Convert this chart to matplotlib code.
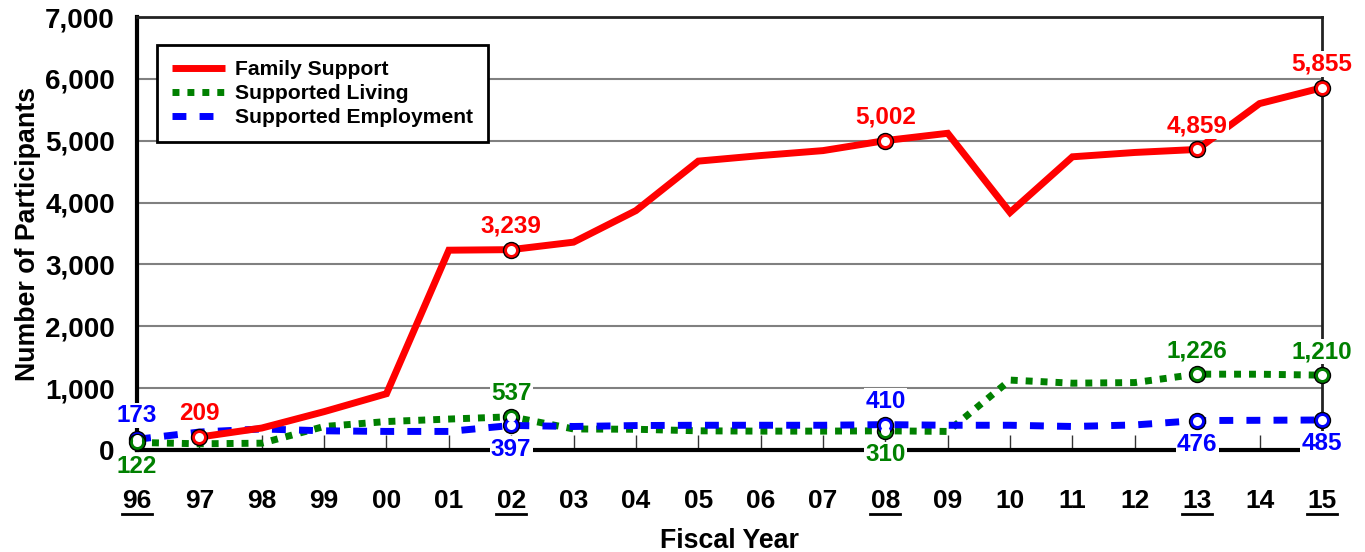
import matplotlib
matplotlib.use('Agg')
import matplotlib.pyplot as plt
import matplotlib.transforms as mtransforms
import numpy as np

plt.rcParams['font.family'] = ['Liberation Sans', 'DejaVu Sans']
plt.rcParams['font.weight'] = 'bold'

years = ['96', '97', '98', '99', '00', '01', '02', '03', '04', '05',
         '06', '07', '08', '09', '10', '11', '12', '13', '14', '15']
family_support = [np.nan, 209, 355, 620, 910, 3230, 3239, 3360, 3870, 4670,
                  4760, 4840, 5002, 5120, 3840, 4740, 4810, 4859, 5600, 5855]
supported_living = [122, 100, 110, 380, 460, 500, 537, 340, 335, 310,
                    305, 305, 310, 300, 1130, 1080, 1090, 1226, 1225, 1210]
supported_employment = [173, 290, 340, 310, 300, 300, 397, 380, 395, 400,
                        400, 400, 410, 400, 400, 380, 405, 476, 480, 485]
# years that get a marker, a value label and an underlined tick
key_years = ['96', '97', '02', '08', '13', '15']

RED, GREEN, BLUE = '#ff0000', '#008000', '#0000ff'

fig = plt.figure(figsize=(13.65, 5.52), dpi=100)
ax = fig.add_axes([0.1004, 0.1848, 0.868, 0.7844])
x = np.arange(len(years))

ax.plot(x, family_support, color=RED, lw=5, solid_capstyle='butt',
        solid_joinstyle='miter', label='Family Support', zorder=4)
ax.plot(x, supported_living, color=GREEN, lw=5, linestyle=(0, (1, 1.15)),
        dash_capstyle='butt', label='Supported Living', zorder=3)
ax.plot(x, supported_employment, color=BLUE, lw=5, linestyle=(0, (2, 1.9)),
        dash_capstyle='butt', label='Supported Employment', zorder=3)


def mark(series, color, idx, where):
    for i in idx:
        v = series[i]
        if np.isnan(v):
            continue
        ax.plot(x[i], v, 'o', ms=11.5, mfc=color, mec='black', mew=1.0, zorder=6, clip_on=False)
        ax.plot(x[i], v, 'o', ms=6.5, mfc='white', mec='white', mew=0, zorder=7, clip_on=False)
        dy = 17 if where == 'above' else -17
        ax.annotate(f'{int(v):,}', (x[i], v), xytext=(0, dy), textcoords='offset points',
                    ha='center', va='center', color=color, fontsize=17.5, fontweight='bold',
                    bbox=dict(boxstyle='square,pad=0.05', fc='white', ec='none'),
                    zorder=8, annotation_clip=False)


idx = [years.index(y) for y in key_years]
mark(supported_employment, BLUE, [idx[0]], 'above')
mark(supported_living, GREEN, [idx[0]], 'below')
mark(family_support, RED, idx[1:], 'above')
mark(supported_living, GREEN, [idx[2], idx[4], idx[5]], 'above')
mark(supported_living, GREEN, [idx[3]], 'below')
mark(supported_employment, BLUE, [idx[2], idx[4], idx[5]], 'below')
mark(supported_employment, BLUE, [idx[3]], 'above')

ax.set_xlim(0, len(years) - 1)
ax.set_ylim(0, 7000)
ax.set_yticks(np.arange(0, 7001, 1000))
ax.set_yticklabels([f'{v:,}' for v in range(0, 7001, 1000)])
ax.set_xticks(x)
ax.set_xticklabels(years)
ax.grid(axis='y', color='#808080', lw=1.5, zorder=1)
ax.set_axisbelow(True)

ax.tick_params(axis='y', length=0, pad=16, labelsize=20)
ax.tick_params(axis='x', direction='in', length=11, width=1, color='#333333',
               pad=28, labelsize=19)
for s in ['left', 'bottom']:
    ax.spines[s].set_linewidth(3)
    ax.spines[s].set_color('black')
for s in ['top', 'right']:
    ax.spines[s].set_linewidth(2)
    ax.spines[s].set_color('#222222')

# underline the key year tick labels
trans = mtransforms.blended_transform_factory(ax.transData, ax.transAxes)
for y in key_years:
    if y == '97':
        continue
    i = years.index(y)
    ax.plot([x[i] - 0.24, x[i] + 0.24], [-0.148, -0.148], color='black', lw=2,
            transform=trans, clip_on=False)

ax.set_xlabel('Fiscal Year', fontsize=19.3, fontweight='bold', labelpad=11)
ax.set_ylabel('Number of Participants', fontsize=19.3, fontweight='bold', labelpad=3)

leg = ax.legend(loc='upper left', bbox_to_anchor=(0.017, 0.935), borderaxespad=0,
                fontsize=15.2, handlelength=2.5, handletextpad=0.5, labelspacing=0.25,
                borderpad=0.7, fancybox=False, framealpha=1)
leg.get_frame().set_edgecolor('black')
leg.get_frame().set_linewidth(2)
leg.set_zorder(10)

fig.savefig('out.png', dpi=100)
